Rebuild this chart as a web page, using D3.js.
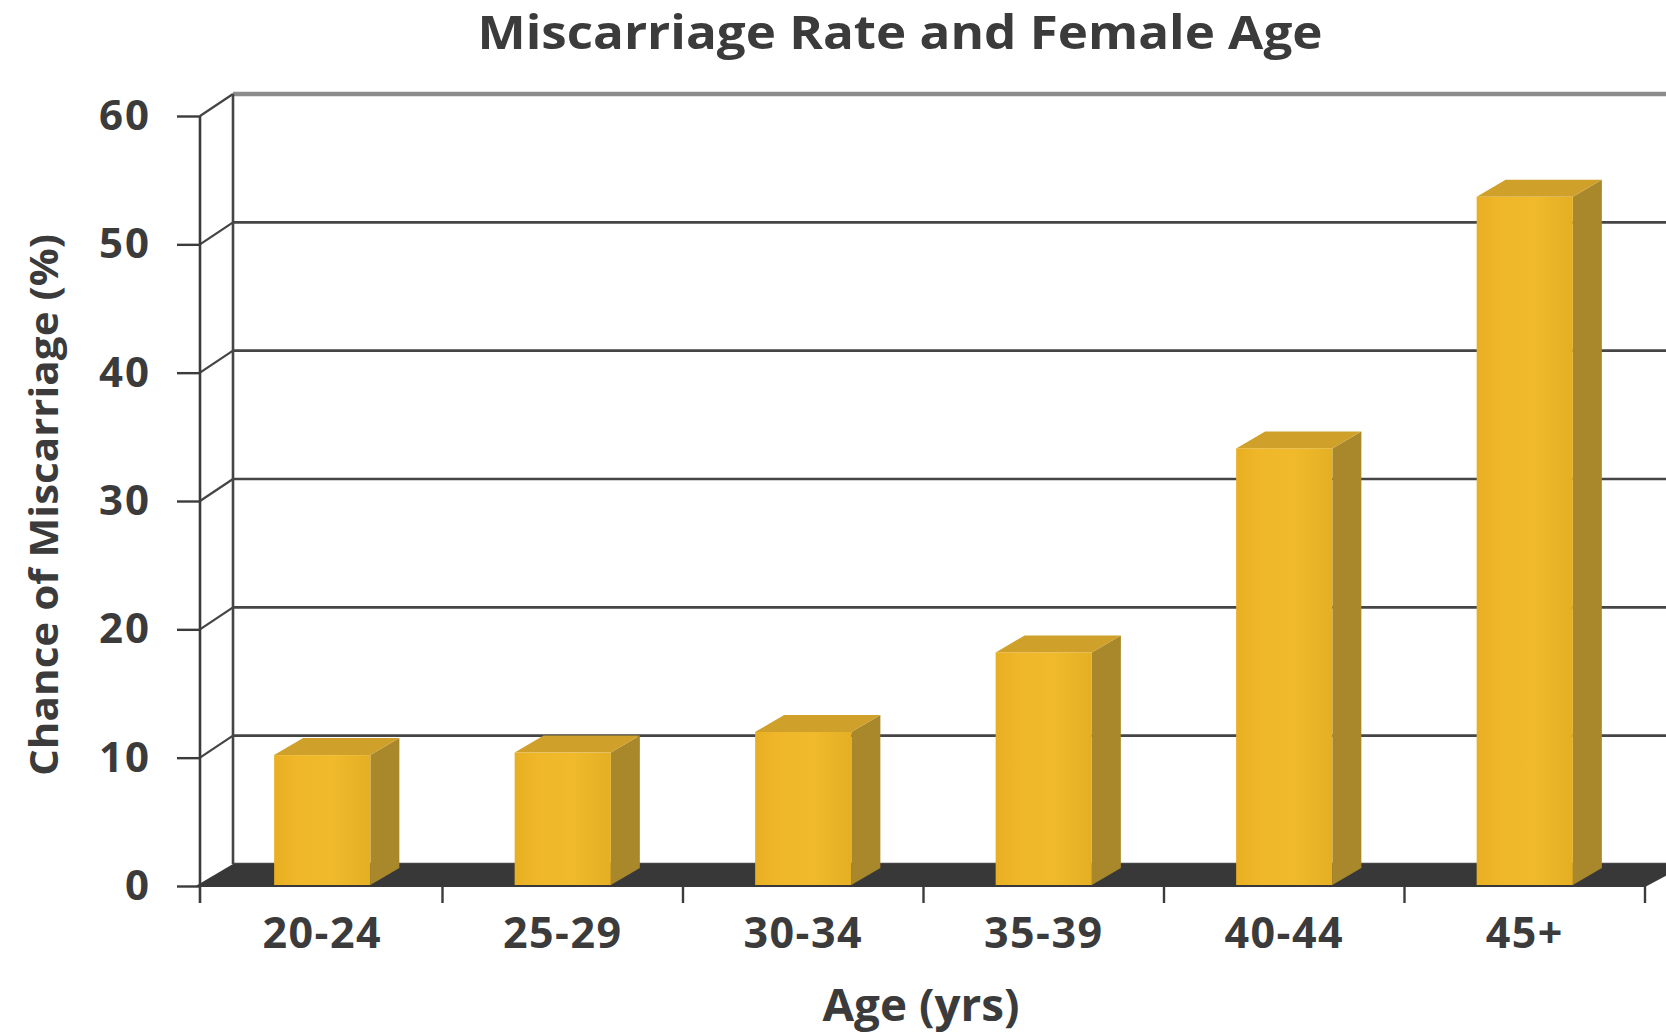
<!DOCTYPE html>
<html>
<head>
<meta charset="utf-8">
<script src="https://cdn.jsdelivr.net/npm/d3@7"></script>
<style>
  html, body { margin: 0; padding: 0; background: #ffffff; }
  svg { display: block; }
  text { font-family: "Open Sans", "Noto Sans", sans-serif; font-weight: 700; fill: #3b3b3b; }
</style>
</head>
<body>
<svg id="chart" width="1666" height="1035"></svg>
<script>
// Age groups and miscarriage chance (%) for each group
const categories = ["20-24", "25-29", "30-34", "35-39", "40-44", "45+"];
const values = [10.2, 10.4, 12.0, 18.2, 34.1, 53.7];
const yTicks = [0, 10, 20, 30, 40, 50, 60];

const titleText = "Miscarriage Rate and Female Age";
const xTitle = "Age (yrs)";
const yTitle = "Chance of Miscarriage (%)";

const W = 1666, H = 1035;
const svg = d3.select("#chart");

// Front plane scales
const x = d3.scaleBand().domain(categories).range([202, 1645])
  .paddingInner(0.6).paddingOuter(0.3);
const y = d3.scaleLinear().domain([0, 60]).range([886, 116]);

// Depth offsets: back wall and bar depth
const WX = 33, WY = -22;
const BX = 29, BY = -17;

const step = x.step();
const gap = (step - x.bandwidth()) / 2;
const boundaries = categories.map(c => x(c) - gap).concat([x(categories[categories.length - 1]) + x.bandwidth() + gap]);

// Back wall gridlines
svg.append("g").selectAll("line").data(yTicks).join("line")
  .attr("x1", 200 + WX).attr("x2", W)
  .attr("y1", d => y(d) + WY).attr("y2", d => y(d) + WY)
  .attr("stroke", d => d === 60 ? "#8c8c8c" : "#454545")
  .attr("stroke-width", d => d === 60 ? 4.5 : 2.6);

// Side wall: diagonal connectors and back vertical edge
svg.append("g").selectAll("line").data(yTicks.filter(d => d > 0)).join("line")
  .attr("x1", 200).attr("y1", d => y(d))
  .attr("x2", 200 + WX).attr("y2", d => y(d) + WY)
  .attr("stroke", "#454545").attr("stroke-width", 2.2);
svg.append("line")
  .attr("x1", 200 + WX).attr("x2", 200 + WX)
  .attr("y1", y(60) + WY).attr("y2", y(0) + WY)
  .attr("stroke", "#454545").attr("stroke-width", 2.6);

// Floor
const x0 = 200, x1 = boundaries[boundaries.length - 1];
svg.append("path")
  .attr("d", `M${x0 - 6},${y(0) + 1} L${x1},${y(0) + 1} L${x1 + WX + 10},${y(0) + WY} L${x0 + WX},${y(0) + WY} Z`)
  .attr("fill", "#383838");

// Bar gradients
const defs = svg.append("defs");
const gFront = defs.append("linearGradient").attr("id", "front").attr("x1", 0).attr("x2", 1);
gFront.append("stop").attr("offset", 0).attr("stop-color", "#E8AF22");
gFront.append("stop").attr("offset", 0.25).attr("stop-color", "#EFB729");
gFront.append("stop").attr("offset", 0.6).attr("stop-color", "#F0BA2C");
gFront.append("stop").attr("offset", 1).attr("stop-color", "#E5AF24");

// 3D bars
const bars = svg.append("g").selectAll("g").data(categories.map((c, i) => ({ c, v: values[i] }))).join("g");
bars.append("path") // side
  .attr("d", d => {
    const xr = x(d.c) + x.bandwidth(), yb = y(0) - 1, yt = y(d.v);
    return `M${xr},${yb} L${xr + BX},${yb + BY} L${xr + BX},${yt + BY} L${xr},${yt} Z`;
  })
  .attr("fill", "#A8882A");
bars.append("path") // top
  .attr("d", d => {
    const xl = x(d.c), xr = xl + x.bandwidth(), yt = y(d.v);
    return `M${xl},${yt} L${xl + BX},${yt + BY} L${xr + BX},${yt + BY} L${xr},${yt} Z`;
  })
  .attr("fill", "#CFA02A");
bars.append("rect") // front
  .attr("x", d => x(d.c))
  .attr("width", x.bandwidth())
  .attr("y", d => y(d.v))
  .attr("height", d => y(0) - 1 - y(d.v))
  .attr("fill", "url(#front)");

// Front vertical axis with ticks
const yAxis = d3.axisLeft(y).tickValues(yTicks).tickSize(23).tickPadding(26);
const gy = svg.append("g").attr("transform", "translate(200,0)").call(yAxis);
gy.select(".domain").remove();
gy.selectAll(".tick line").attr("stroke", "#3b3b3b").attr("stroke-width", 2.4);
gy.selectAll(".tick text").attr("font-size", 42).attr("fill", "#3b3b3b")
  .attr("letter-spacing", 2)
  .style("font-family", "'Open Sans', sans-serif").style("font-weight", 700);
svg.append("line").attr("x1", 200).attr("x2", 200)
  .attr("y1", y(60)).attr("y2", y(0) + 17)
  .attr("stroke", "#3b3b3b").attr("stroke-width", 2.6);

// Category tick marks at band boundaries
svg.append("g").selectAll("line").data(boundaries.slice(1)).join("line")
  .attr("x1", d => d).attr("x2", d => d)
  .attr("y1", y(0)).attr("y2", y(0) + 17)
  .attr("stroke", "#3b3b3b").attr("stroke-width", 2.4);

// Category labels
const xAxis = d3.axisBottom(x).tickSize(0).tickPadding(0);
const gx = svg.append("g").attr("transform", `translate(0,${y(0)})`).call(xAxis);
gx.select(".domain").remove();
gx.selectAll(".tick text").attr("font-size", 43).attr("fill", "#3b3b3b")
  .attr("letter-spacing", 1.5)
  .attr("dy", null).attr("y", 62)
  .style("font-family", "'Open Sans', sans-serif").style("font-weight", 700);

// Titles
svg.append("text").attr("x", 900).attr("y", 49).attr("text-anchor", "middle")
  .attr("font-size", 47).attr("textLength", 845).attr("lengthAdjust", "spacingAndGlyphs")
  .text(titleText);
svg.append("text").attr("x", 921).attr("y", 1021).attr("text-anchor", "middle")
  .attr("font-size", 44).attr("textLength", 197).attr("lengthAdjust", "spacingAndGlyphs")
  .text(xTitle);
svg.append("text").attr("transform", "translate(58,505) rotate(-90)")
  .attr("text-anchor", "middle").attr("font-size", 39)
  .attr("textLength", 542).attr("lengthAdjust", "spacingAndGlyphs")
  .text(yTitle);
</script>
</body>
</html>
